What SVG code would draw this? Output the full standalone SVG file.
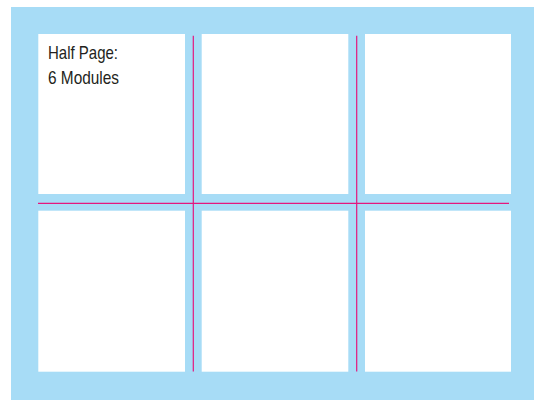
<svg xmlns="http://www.w3.org/2000/svg" width="534" height="400" viewBox="0 0 534 400">
<style>
.bg{fill:#a7dcf6}
.mod{fill:#ffffff}
.guide{stroke:#e5177e;stroke-width:1.2;fill:none}
.lbl{font-family:"Liberation Sans",Arial,sans-serif;font-size:18.5px;fill:#231f20}
</style>
<rect class="bg" x="11" y="7" width="523" height="393"/>
<g id="m1"><rect class="mod" x="38.3" y="34" width="146.7" height="160"/>
<text class="lbl" x="48" y="59.3" textLength="70" lengthAdjust="spacingAndGlyphs">Half Page:</text>
<text class="lbl" x="48" y="84" textLength="71" lengthAdjust="spacingAndGlyphs">6 Modules</text></g>
<g id="m2"><rect class="mod" x="201.7" y="34" width="146.6" height="160"/></g>
<g id="m3"><rect class="mod" x="365" y="34" width="146" height="160"/></g>
<g id="m4"><rect class="mod" x="38.3" y="210.7" width="146.7" height="161"/></g>
<g id="m5"><rect class="mod" x="201.7" y="210.7" width="146.6" height="161"/></g>
<g id="m6"><rect class="mod" x="365" y="210.7" width="146" height="161"/></g>
<g id="connectors">
<line class="guide" x1="193.3" y1="35.7" x2="193.3" y2="371.5"/>
<line class="guide" x1="356.7" y1="35.7" x2="356.7" y2="371.5"/>
<line class="guide" x1="38" y1="203.3" x2="509" y2="203.3"/>
</g>
</svg>
